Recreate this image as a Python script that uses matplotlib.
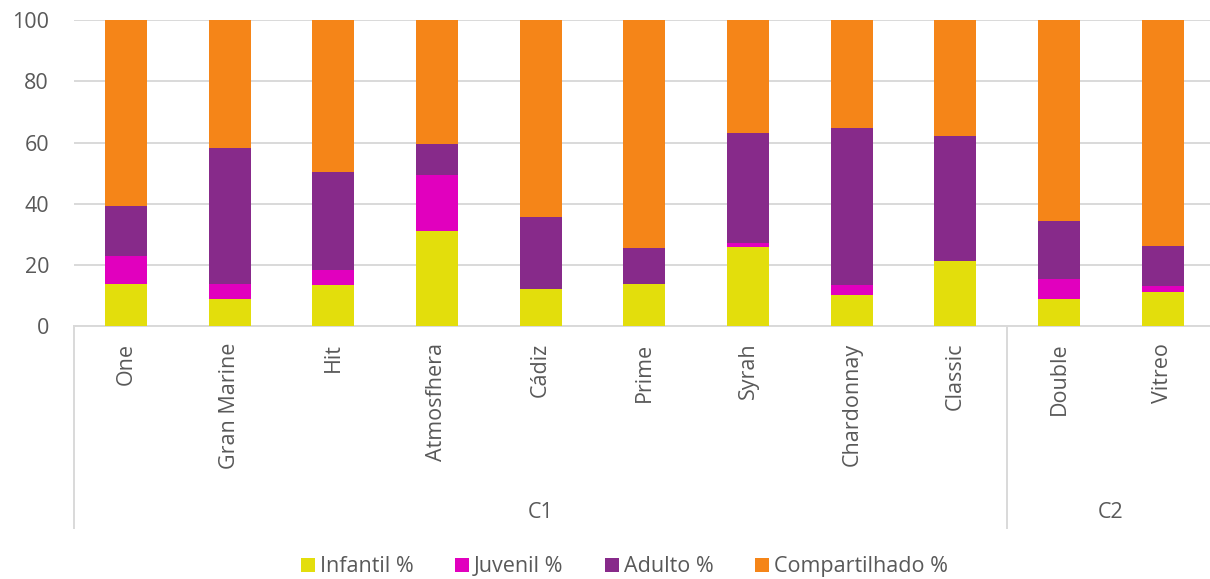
import matplotlib.pyplot as plt
import matplotlib.transforms as mtransforms

# Data
products = ['One', 'Gran Marine', 'Hit', 'Atmosfhera', 'Cádiz', 'Prime',
            'Syrah', 'Chardonnay', 'Classic', 'Double', 'Vitreo']
groups = ['C1', 'C2']
group_sizes = [9, 2]
infantil = [13.9, 8.9, 13.3, 31.0, 12.0, 13.9, 25.9, 10.2, 21.4, 8.9, 11.1]
juvenil = [8.9, 5.0, 5.0, 18.5, 0.0, 0.0, 1.3, 3.2, 0.0, 6.4, 1.9]
adulto = [16.3, 44.2, 32.2, 9.9, 23.7, 11.5, 35.8, 51.5, 40.7, 19.1, 13.1]
compartilhado = [60.9, 41.9, 49.5, 40.6, 64.3, 74.6, 37.0, 35.1, 37.9, 65.6, 73.9]
series_names = ['Infantil %', 'Juvenil %', 'Adulto %', 'Compartilhado %']
yticks = [0, 20, 40, 60, 80, 100]

colors = ['#E3DE0C', '#E100BE', '#872A8A', '#F58518']
text_color = '#595959'
grid_color = '#D9D9D9'

plt.rcParams['font.family'] = ['Open Sans', 'DejaVu Sans']

fig = plt.figure(figsize=(12.1, 5.79), dpi=100)
W, H = 1210, 579
ax = fig.add_axes([74 / W, (H - 326) / H, 1140.7 / W, 305.7 / H])

x = list(range(len(products)))
bottom = [0.0] * len(products)
for vals, name, c in zip([infantil, juvenil, adulto, compartilhado], series_names, colors):
    ax.bar(x, vals, width=0.405, bottom=bottom, color=c, label=name, zorder=3)
    bottom = [b + v for b, v in zip(bottom, vals)]

ax.set_xlim(-0.5, len(products) - 0.5)
ax.set_ylim(0, 100)
ax.set_yticks(yticks)
ax.yaxis.grid(True, color=grid_color, linewidth=1.4, zorder=0)
ax.set_axisbelow(True)
for s in ['left', 'right', 'top']:
    ax.spines[s].set_visible(False)
ax.spines['bottom'].set_color(grid_color)
ax.spines['bottom'].set_linewidth(1.4)

ax.set_xticks(x)
ax.set_xticklabels(products, rotation=90, ha='center', va='top')
ax.tick_params(axis='x', length=0, pad=12, labelsize=15.5, labelcolor=text_color)
ax.tick_params(axis='y', length=0, pad=18, labelsize=15.5, labelcolor=text_color)

# group axis below the product labels
trans = mtransforms.blended_transform_factory(ax.transData, ax.transAxes)
y_low = (326 - 528) / 305.7
start = -0.5
for g, n in zip(groups, group_sizes):
    ax.plot([start, start], [0, y_low], transform=trans, color=grid_color,
            linewidth=1.4, clip_on=False)
    ax.text(start + n / 2, (326 - 513) / 305.7, g, transform=trans, ha='center',
            va='center', fontsize=15.5, color=text_color)
    start += n

fig.legend(loc='center', bbox_to_anchor=(0.516, 0.021), ncol=4, frameon=False,
           fontsize=15.5, handlelength=0.65, handleheight=0.65, handletextpad=0.25,
           columnspacing=1.9, labelcolor=text_color, borderpad=0)

fig.savefig('out.png', dpi=100)
